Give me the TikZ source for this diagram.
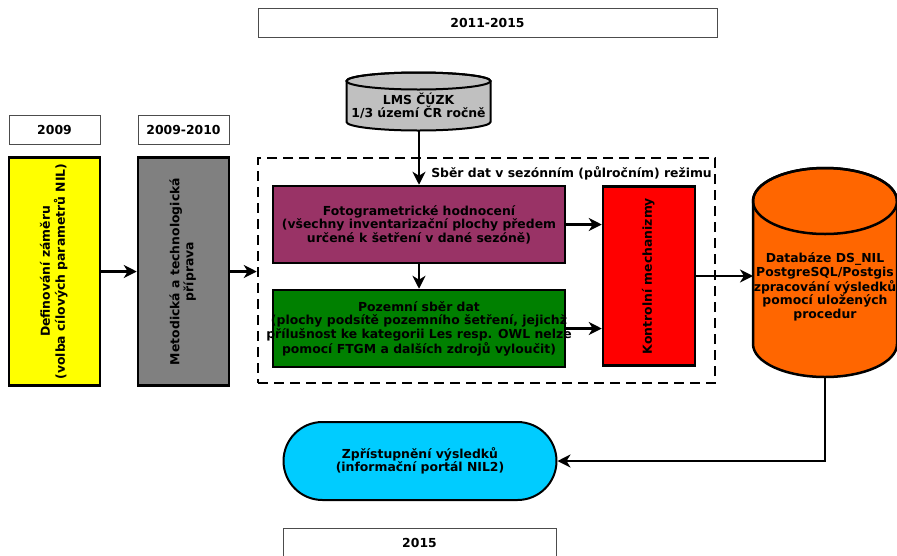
\documentclass[tikz,border=0pt]{standalone}
\usepackage{fontspec}
\usepackage{graphicx}
\setmainfont{DejaVu Sans}
\usetikzlibrary{arrows.meta}

\definecolor{goalyellow}{HTML}{FFFF00}
\definecolor{prepgray}{HTML}{808080}
\definecolor{fotopurple}{HTML}{993366}
\definecolor{survgreen}{HTML}{008000}
\definecolor{ctrlred}{HTML}{FF0000}
\definecolor{dborange}{HTML}{FF6600}
\definecolor{portalblue}{HTML}{00CCFF}
\definecolor{lmsgray}{HTML}{C0C0C0}

\newcommand{\vtext}[1]{\rotatebox{90}{\begin{tabular}{@{}c@{}}#1\end{tabular}}}

\begin{document}
\begin{tikzpicture}[x=1pt, y=-1pt,
  every node/.style={font=\bfseries\fontsize{12.4}{13.6}\selectfont, align=center, inner sep=0pt},
  yearbox/.style={draw=black!70, line width=1pt, fill=white},
  box/.style={draw, line width=2.5pt},
  dashbox/.style={draw, line width=2.5pt, dash pattern=on 10pt off 6pt},
  arr/.style={line width=2.2pt, -{Stealth[length=13pt, width=13pt, inset=4pt]}}]
  \useasboundingbox (0,0) rectangle (897,555);
  \clip (0,0) rectangle (897,555);

  % years
  \node[yearbox, minimum width=459pt, minimum height=29pt] (y1115) at (487.5,22.5) {2011-2015};
  \node[yearbox, minimum width=91pt, minimum height=29pt] (y09) at (54.5,129.5) {2009};
  \node[yearbox, minimum width=91pt, minimum height=29pt] (y0910) at (183.5,129.5) {2009-2010};
  \node[yearbox, minimum width=273pt, minimum height=30pt] (y15) at (419.5,543) {2015};

  % left part
  \node[box, fill=goalyellow, minimum width=91pt, minimum height=228pt] (goal) at (54.5,271.5)
    {\vtext{Definování záměru\\(volba cílových parametrů NIL)}};
  \node[box, fill=prepgray, minimum width=91pt, minimum height=228pt] (prep) at (183.5,271.5)
    {\vtext{Metodická a technologická\\příprava}};

  % seasonal collection
  \node[dashbox, minimum width=457pt, minimum height=225pt] (season) at (486.5,270.5) {};
  \node[anchor=east] (seasonlbl) at (712,173) {Sběr dat v sezónním (půlročním) režimu};

  \node[box, fill=fotopurple, minimum width=292pt, minimum height=77pt] (foto) at (419,224.5)
    {Fotogrametrické hodnocení\\(všechny inventarizační plochy předem\\určené k šetření v dané sezóně)};
  \node[box, fill=survgreen, minimum width=292pt, minimum height=77pt] (surv) at (419,328.5) {};
  \node (survtxt) at (surv) {Pozemní sběr dat\\(plochy podsítě pozemního šetření, jejichž\\přílušnost ke kategorii Les resp. OWL nelze\\pomocí FTGM a dalších zdrojů vyloučit)};
  \node[box, fill=ctrlred, minimum width=92pt, minimum height=179pt] (ctrl) at (649,276)
    {\vtext{Kontrolní mechanizmy}};

  % LMS cylinder
  \filldraw[line width=2pt, fill=lmsgray] (346.5,81) -- (346.5,122)
    arc[start angle=180, end angle=360, x radius=72pt, y radius=8.5pt] -- (490.5,81)
    arc[start angle=0, end angle=180, x radius=72pt, y radius=8.5pt] -- cycle;
  \draw[line width=2pt] (418.5,81) ellipse[x radius=72pt, y radius=8.5pt];
  \node (lms) at (418.5,106) {LMS ČÚZK\\1/3 území ČR ročně};
  \coordinate (lmsbot) at (419,130.5);

  % database cylinder
  \filldraw[line width=2.5pt, fill=dborange] (753,201) -- (753,344)
    arc[start angle=180, end angle=360, x radius=72pt, y radius=33pt] -- (897,201)
    arc[start angle=0, end angle=180, x radius=72pt, y radius=33pt] -- cycle;
  \draw[line width=2.5pt] (825,201) ellipse[x radius=72pt, y radius=33pt];
  \node (db) at (825,287) {Databáze DS\_NIL\\PostgreSQL/Postgis\\zpracování výsledků\\pomocí uložených\\procedur};
  \coordinate (dbleft) at (753,276);
  \coordinate (dbbot) at (825,377);

  % portal
  \node[draw, line width=2pt, fill=portalblue, rounded corners=39pt,
    minimum width=273pt, minimum height=78pt] (portal) at (420,461)
    {Zpřístupnění výsledků\\(informační portál NIL2)};

  % arrows
  \draw[arr] (goal) -- (prep);
  \draw[arr] (prep) -- (prep -| season.west);
  \draw[arr] (lmsbot) -- (foto);
  \draw[arr] (foto) -- (surv);
  \draw[arr] (foto) -- (foto -| ctrl.west);
  \draw[arr] (surv) -- (surv -| ctrl.west);
  \draw[arr] (ctrl) -- (dbleft);
  \draw[arr] (dbbot) |- (portal);
\end{tikzpicture}
\end{document}
